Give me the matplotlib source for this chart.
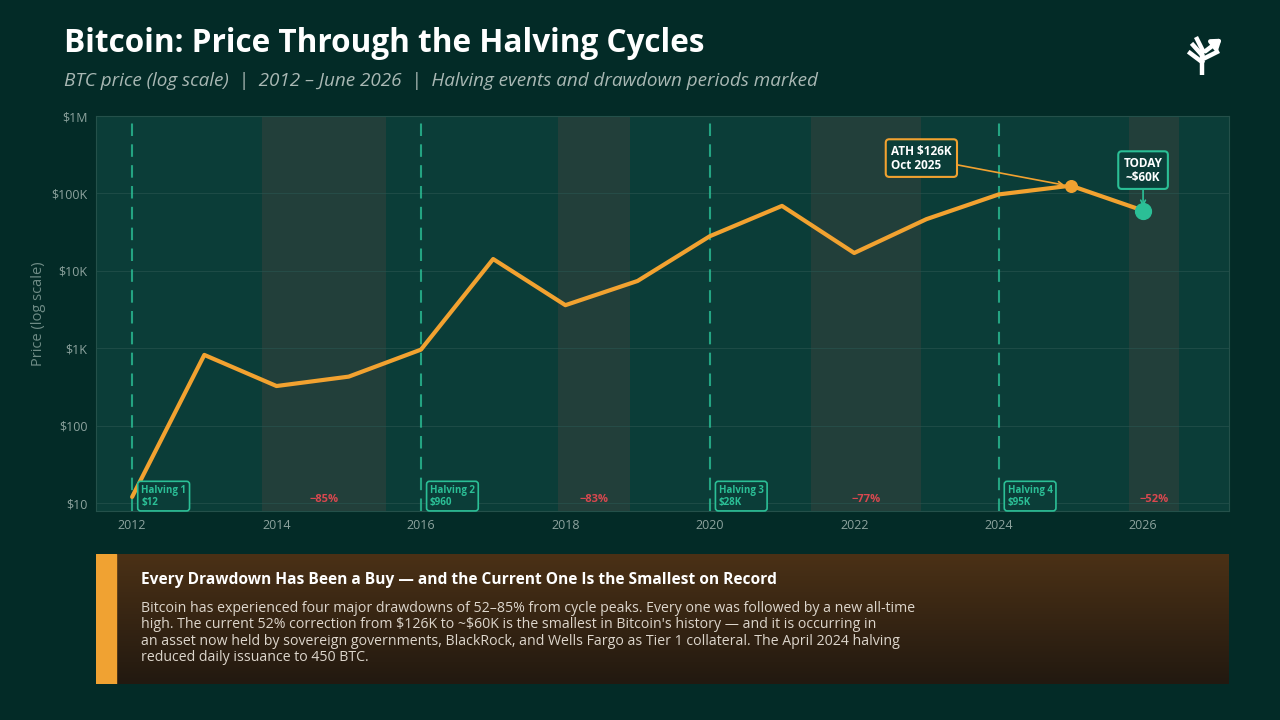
import matplotlib.pyplot as plt
import numpy as np
from matplotlib.patches import Rectangle

# Данные: годовые точки цены BTC (по картинке)
years = [2012, 2013, 2014, 2015, 2016, 2017, 2018, 2019, 2020, 2021, 2022, 2023, 2024, 2025, 2026]
prices = [12, 820, 325, 430, 960, 14200, 3600, 7400, 28000, 69000, 17000, 46500, 97000, 126000, 60000]

halving_years = [2012, 2016, 2020, 2024]
halving_labels = ['Halving 1\n$12', 'Halving 2\n$960', 'Halving 3\n$28K', 'Halving 4\n$95K']

drawdown_start = [2013.8, 2017.9, 2021.4, 2025.8]
drawdown_end = [2015.52, 2018.9, 2022.92, 2026.5]
drawdown_labels = ['−85%', '−83%', '−77%', '−52%']

ath_year, ath_price = 2025, 126000
today_year, today_price = 2026, 60000

y_ticks = [10, 100, 1000, 10000, 100000, 1000000]
y_tick_labels = ['$10', '$100', '$1K', '$10K', '$100K', '$1M']
x_ticks = [2012, 2014, 2016, 2018, 2020, 2022, 2024, 2026]

# Цвета
BG = '#032b27'
AX_BG = '#0b3d38'
SHADE = '#223f3a'
ORANGE = '#f2a230'
TEAL = '#2bbf96'
RED = '#d9484f'
GRAY = '#8da39e'

plt.rcParams['font.family'] = ['Open Sans', 'DejaVu Sans']

fig = plt.figure(figsize=(12.8, 7.2), dpi=100, facecolor=BG)

# Заголовки
fig.text(64 / 1280, 1 - 43 / 720, 'Bitcoin: Price Through the Halving Cycles',
         color='white', fontsize=22.7, fontweight='bold', va='center', ha='left')
fig.text(64 / 1280, 1 - 81 / 720,
         'BTC price (log scale)  |  2012 – June 2026  |  Halving events and drawdown periods marked',
         color='#a9b8b4', fontsize=13.6, style='italic', va='center', ha='left')

# Основной график
ax = fig.add_axes([96 / 1280, 1 - 511 / 720, (1229 - 96) / 1280, (511 - 116) / 720])
ax.set_facecolor(AX_BG)
ax.set_yscale('log')
ax.set_xlim(2011.5, 2027.19)
ax.set_ylim(7.9, 1e6)

for s, e in zip(drawdown_start, drawdown_end):
    ax.axvspan(s, e, color=SHADE, zorder=1, lw=0)

ax.grid(axis='y', color='#2a5650', lw=0.8, alpha=0.6, zorder=2)
ax.grid(axis='x', visible=False)
ax.minorticks_off()

for hy, lab in zip(halving_years, halving_labels):
    ax.axvline(hy, color=TEAL, ls=(0, (6, 4)), lw=1.5, alpha=0.8, zorder=3)
    ax.text(hy + 0.125, 12.3, lab, color=TEAL, fontsize=7, fontweight='bold',
            ha='left', va='center', zorder=6, linespacing=1.1,
            bbox=dict(boxstyle='round,pad=0.35,rounding_size=0.3', fc=AX_BG, ec=TEAL, lw=1.2))

for s, e, lab in zip(drawdown_start, drawdown_end, drawdown_labels):
    ax.text((s + e) / 2, 11, lab, color=RED, fontsize=8, fontweight='bold',
            ha='center', va='center', zorder=6)

ax.plot(years, prices, color=ORANGE, lw=3, zorder=5, solid_capstyle='round')
ax.scatter([ath_year], [ath_price], s=70, color=ORANGE, zorder=7)
ax.scatter([today_year], [today_price], s=130, color=TEAL, zorder=7)

ax.annotate('ATH $126K\nOct 2025', xy=(ath_year - 0.05, ath_price), xytext=(2022.93, 286000),
            color='white', fontsize=8.5, fontweight='bold', ha='center', va='center',
            multialignment='left', linespacing=1.1, zorder=8,
            bbox=dict(boxstyle='round,pad=0.45,rounding_size=0.3', fc=AX_BG, ec=ORANGE, lw=1.5),
            arrowprops=dict(arrowstyle='->', color=ORANGE, lw=1.2, shrinkA=0, shrinkB=2))
ax.annotate('TODAY\n~$60K', xy=(today_year, today_price * 1.12), xytext=(today_year, 200000),
            color='white', fontsize=8.5, fontweight='bold', ha='center', va='center',
            linespacing=1.1, zorder=8,
            bbox=dict(boxstyle='round,pad=0.45,rounding_size=0.3', fc=AX_BG, ec=TEAL, lw=1.5),
            arrowprops=dict(arrowstyle='->', color=TEAL, lw=1.2, shrinkA=0, shrinkB=0))

ax.set_yticks(y_ticks)
ax.set_yticklabels(y_tick_labels)
ax.set_xticks(x_ticks)
ax.set_xticklabels([str(x) for x in x_ticks])
ax.tick_params(colors=GRAY, labelsize=9, length=0, pad=6)
for sp in ax.spines.values():
    sp.set_color('#24504a')
    sp.set_linewidth(0.8)
ax.set_ylabel('Price (log scale)', color='#6f8c86', fontsize=10.5, labelpad=4)

# Блок с выводом, градиент
box = fig.add_axes([96 / 1280, 1 - 684 / 720, (1229 - 96) / 1280, (684 - 554) / 720])
top = np.array([0x4b, 0x31, 0x16]) / 255
bot = np.array([0x22, 0x19, 0x10]) / 255
t = np.linspace(0, 1, 200)[:, None]
grad = (top * (1 - t) + bot * t)[:, None, :].repeat(2, axis=1)
box.imshow(grad, aspect='auto', extent=[0, 1, 0, 1])
box.add_patch(Rectangle((0, 0), 20 / 1133, 1, color='#f0a232', transform=box.transAxes))
box.set_xlim(0, 1)
box.set_ylim(0, 1)
box.axis('off')

fig.text(141 / 1280, 1 - 580 / 720,
         'Every Drawdown Has Been a Buy — and the Current One Is the Smallest on Record',
         color='white', fontsize=11.2, fontweight='bold', va='center', ha='left')
body = ("Bitcoin has experienced four major drawdowns of 52–85% from cycle peaks. Every one was followed by a new all-time\n"
        "high. The current 52% correction from \\$126K to ~\\$60K is the smallest in Bitcoin's history — and it is occurring in\n"
        "an asset now held by sovereign governments, BlackRock, and Wells Fargo as Tier 1 collateral. The April 2024 halving\n"
        "reduced daily issuance to 450 BTC.")
fig.text(141 / 1280, 1 - 601 / 720, body, color='#ddd6cc', fontsize=10.2, va='top', ha='left',
         linespacing=1.12)

# Логотип: дерево со стрелкой
logo = fig.add_axes([1180 / 1280, 1 - 80 / 720, 50 / 1280, 48 / 720])
logo.set_xlim(0, 50)
logo.set_ylim(0, 48)
logo.axis('off')
lw = 3.2
logo.plot([22, 22], [5, 30], color='white', lw=lw, solid_capstyle='butt')
logo.plot([22, 10], [18, 27], color='white', lw=lw)
logo.plot([22, 13], [25, 35], color='white', lw=lw)
logo.plot([22, 17], [31, 41], color='white', lw=lw)
logo.plot([23, 37], [21, 28], color='white', lw=lw)
logo.annotate('', xy=(44, 43), xytext=(23, 27),
              arrowprops=dict(arrowstyle='-|>,head_length=0.5,head_width=0.35', color='white', lw=lw))

fig.savefig('out.png', dpi=100, facecolor=BG)
